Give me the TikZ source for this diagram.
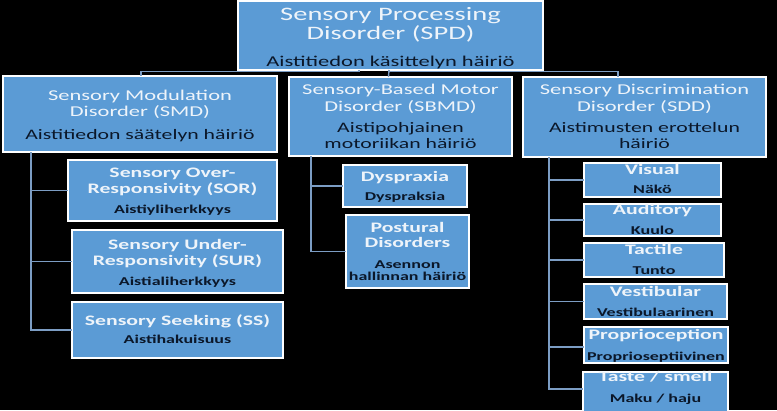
\documentclass[tikz,border=0pt]{standalone}
\usepackage{fontspec}
\setmainfont{Carlito}[FakeStretch=1.5]
\definecolor{boxblue}{HTML}{5B9BD5}
\definecolor{lighttxt}{HTML}{EEF4FA}
\definecolor{darktxt}{HTML}{0B1729}
\definecolor{connc}{HTML}{7C9DC4}
\tikzset{
  box/.style={draw=white, line width=1.4pt, fill=boxblue, inner sep=0pt, outer sep=0pt},
  tx/.style={inner sep=0pt, anchor=base},
  ta/.style={tx, text=lighttxt, font=\fontsize{19}{21}\selectfont},
  sa/.style={tx, text=darktxt, font=\fontsize{15}{17}\selectfont},
  tb/.style={tx, text=lighttxt, font=\fontsize{15}{17}\selectfont},
  sb/.style={tx, text=darktxt, font=\fontsize{14.5}{16}\selectfont},
  tc/.style={tx, text=lighttxt, font=\bfseries\fontsize{14.5}{16}\selectfont},
  sc/.style={tx, text=darktxt, font=\bfseries\fontsize{12}{14}\selectfont},
  conn/.style={draw=connc, line width=1.4pt}
}
\begin{document}
\begin{tikzpicture}[x=1pt,y=1pt]
\fill[black] (0,0) rectangle (777,-410);
\useasboundingbox (0,0) rectangle (777,-410);
% boxes
\node[box, minimum width=305pt, minimum height=69pt] (top) at (390.5,-35.5) {};
\node[box, minimum width=274pt, minimum height=76pt] (smd) at (140,-114) {};
\node[box, minimum width=223pt, minimum height=79pt] (sbmd) at (400.5,-116.5) {};
\node[box, minimum width=243pt, minimum height=80pt] (sdd) at (644.5,-117) {};
\node[box, minimum width=209pt, minimum height=61pt] (sor) at (172.5,-190.5) {};
\node[box, minimum width=211pt, minimum height=63pt] (sur) at (177.5,-261.5) {};
\node[box, minimum width=211pt, minimum height=56pt] (ss) at (177.5,-330) {};
\node[box, minimum width=124pt, minimum height=42pt] (dys) at (405,-186) {};
\node[box, minimum width=123pt, minimum height=73pt] (pos) at (407.5,-251.5) {};
\node[box, minimum width=137pt, minimum height=34pt] (vis) at (652.5,-180) {};
\node[box, minimum width=137pt, minimum height=32pt] (aud) at (652.5,-220) {};
\node[box, minimum width=140pt, minimum height=34pt] (tac) at (654,-260) {};
\node[box, minimum width=143pt, minimum height=35pt] (ves) at (655.5,-301.5) {};
\node[box, minimum width=144pt, minimum height=36pt] (pro) at (656,-345) {};
\node[box, minimum width=145pt, minimum height=40pt] (tas) at (655.5,-392) {};
% connectors
\draw[conn] ([xshift=-31.5pt]top.south) -- ++(0,-1.5) -| ([xshift=1pt]smd.north);
\draw[conn] ([xshift=-1.5pt]top.south) -- ++(0,-1.5) -| ([xshift=-26.5pt]sdd.north);
\draw[conn] ([xshift=-1.5pt]top.south) -- ([xshift=-12pt]sbmd.north);
\draw[conn] ([xshift=-109pt]smd.south) |- (sor.west);
\draw[conn] ([xshift=-109pt]smd.south) |- (sur.west);
\draw[conn] ([xshift=-109pt]smd.south) |- (ss.west);
\draw[conn] ([xshift=-89.5pt]sbmd.south) |- (dys.west);
\draw[conn] ([xshift=-89.5pt]sbmd.south) |- (pos.west);
\draw[conn] ([xshift=-95.5pt]sdd.south) |- (vis.west);
\draw[conn] ([xshift=-95.5pt]sdd.south) |- (aud.west);
\draw[conn] ([xshift=-95.5pt]sdd.south) |- (tac.west);
\draw[conn] ([xshift=-95.5pt]sdd.south) |- (ves.west);
\draw[conn] ([xshift=-95.5pt]sdd.south) |- ([yshift=-2pt]pro.west);
\draw[conn] ([xshift=-95.5pt]sdd.south) |- ([yshift=3pt]tas.west);
% texts: top
\node[ta] (t1a) at (390.5,-20) {Sensory Processing};
\node[ta] (t1b) at (390.5,-39.5) {Disorder (SPD)};
\node[sa] (t1c) at (390.5,-66) {Aistitiedon käsittelyn häiriö};
% level 2
\node[tb] (t2a) at (140,-100.5) {Sensory Modulation};
\node[tb] (t2b) at (140,-116.5) {Disorder (SMD)};
\node[sb] (t2c) at (140,-139) {Aistitiedon säätelyn häiriö};
\node[tb] (t3a) at (400.5,-94) {Sensory-Based Motor};
\node[tb] (t3b) at (400.5,-111) {Disorder (SBMD)};
\node[sb] (t3c) at (400.5,-132) {Aistipohjainen};
\node[sb] (t3d) at (400.5,-148) {motoriikan häiriö};
\node[tb] (t4a) at (644.5,-94) {Sensory Discrimination};
\node[tb] (t4b) at (644.5,-111) {Disorder (SDD)};
\node[sb] (t4c) at (644.5,-132) {Aistimusten erottelun};
\node[sb] (t4d) at (644.5,-148) {häiriö};
% SMD leaves
\node[tc] (l1a) at (172.5,-177.5) {Sensory Over-};
\node[tc] (l1b) at (172.5,-193) {Responsivity (SOR)};
\node[sc] (l1c) at (172.5,-213) {Aistiyliherkkyys};
\node[tc] (l2a) at (177.5,-249) {Sensory Under-};
\node[tc] (l2b) at (177.5,-265) {Responsivity (SUR)};
\node[sc] (l2c) at (177.5,-285) {Aistialiherkkyys};
\node[tc] (l3a) at (177.5,-325) {Sensory Seeking (SS)};
\node[sc] (l3b) at (177.5,-343) {Aistihakuisuus};
% SBMD leaves
\node[tc] (m1a) at (405,-181) {Dyspraxia};
\node[sc] (m1b) at (405,-200.5) {Dyspraksia};
\node[tc] (m2a) at (407.5,-232) {Postural};
\node[tc] (m2b) at (407.5,-247.5) {Disorders};
\node[sc] (m2c) at (407.5,-268) {Asennon};
\node[sc] (m2d) at (407.5,-280) {hallinnan häiriö};
% SDD leaves
\node[tc] (r1a) at (652.5,-174) {Visual};
\node[sc] (r1b) at (652.5,-193) {Näkö};
\node[tc] (r2a) at (652.5,-214) {Auditory};
\node[sc] (r2b) at (652.5,-234) {Kuulo};
\node[tc] (r3a) at (654,-254) {Tactile};
\node[sc] (r3b) at (654,-274) {Tunto};
\node[tc] (r4a) at (655.5,-296.5) {Vestibular};
\node[sc] (r4b) at (655.5,-316) {Vestibulaarinen};
\node[tc] (r5a) at (656,-339) {Proprioception};
\node[sc] (r5b) at (656,-360) {Proprioseptiivinen};
\node[tc] (r6a) at (655.5,-381.5) {Taste / smell};
\node[sc] (r6b) at (655.5,-402.5) {Maku / haju};
\end{tikzpicture}
\end{document}
